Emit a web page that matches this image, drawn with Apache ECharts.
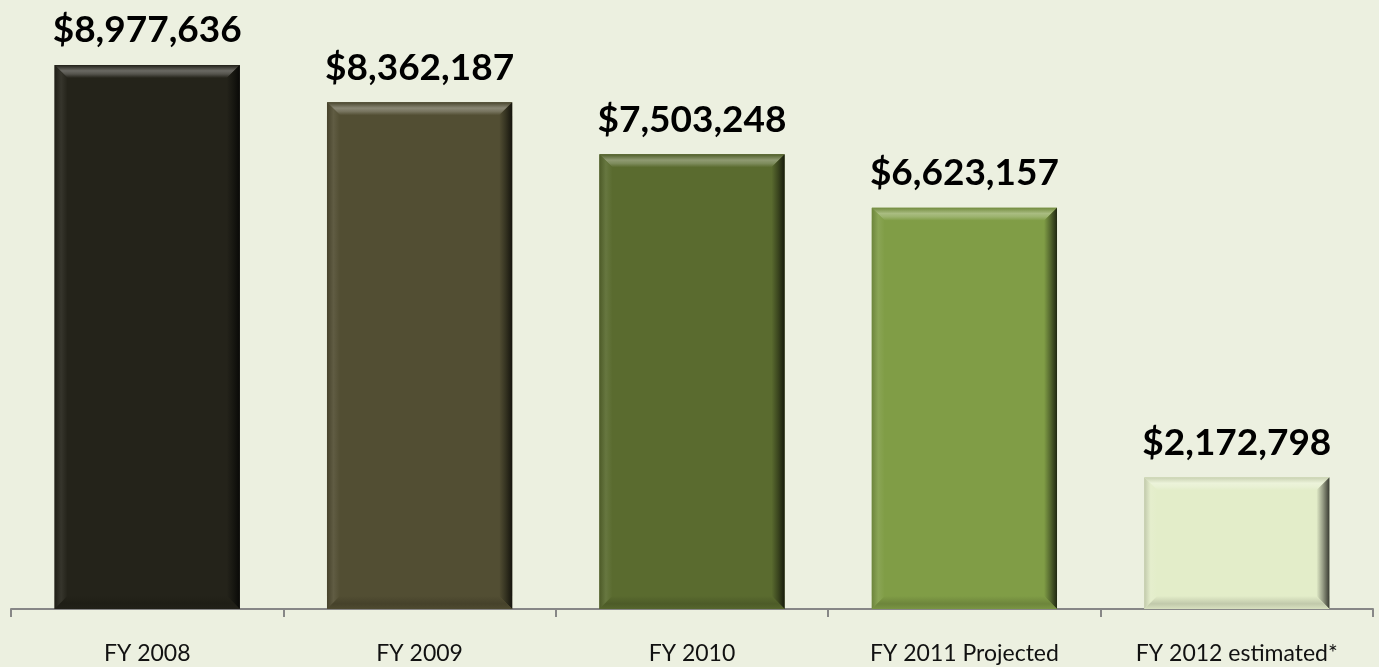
<!DOCTYPE html>
<html>
<head>
<meta charset="utf-8">
<script src="https://cdn.jsdelivr.net/npm/echarts@6/dist/echarts.min.js"></script>
<style>
html,body{margin:0;padding:0;background:#ecf0e0;}
#chart{width:1379px;height:667px;}
</style>
</head>
<body>
<div id="chart"></div>
<script>
var categories = ['FY 2008', 'FY 2009', 'FY 2010', 'FY 2011 Projected', 'FY 2012 estimated*'];
var values = [8977636, 8362187, 7503248, 6623157, 2172798];
var barColors = ['#24231a', '#524e33', '#5a6b2f', '#809d46', '#e3edc9'];

function hexToRgb(h){h=h.replace('#','');return [parseInt(h.substr(0,2),16),parseInt(h.substr(2,2),16),parseInt(h.substr(4,2),16)];}
function mix(c, t, a){
  var r = hexToRgb(c), s = hexToRgb(t);
  return 'rgb(' + [0,1,2].map(function(i){return Math.round(r[i]*(1-a)+s[i]*a);}).join(',') + ')';
}
function fmt(v){return '$' + v.toString().replace(/\B(?=(\d{3})+(?!\d))/g, ',');}

function renderItem(params, api){
  var idx = params.dataIndex;
  var top = api.coord([idx, api.value(1)]);
  var base = api.coord([idx, 0]);
  var w = api.size([1, 0])[0] * 0.68;
  var x = top[0] - w / 2, y = top[1], h = base[1] - top[1];
  var b = 13;
  var c = barColors[idx];
  var darker = mix(c, '#000000', 0.75);
  var lgt = function(a){return mix(c, '#ffffff', a);};
  var drk = function(a){return mix(c, '#000000', a);};
  return {
    type: 'group',
    children: [
      {type: 'rect', shape: {x: x, y: y, width: w, height: h}, style: {fill: c}},
      {type: 'polygon', shape: {points: [[x, y], [x + w, y], [x + w - b, y + b], [x + b, y + b]]},
        style: {fill: new echarts.graphic.LinearGradient(0, 0, 0, 1, [
          {offset: 0, color: drk(0.12)}, {offset: 0.45, color: lgt(0.32)}, {offset: 0.7, color: lgt(0.22)}, {offset: 1, color: c}])}},
      {type: 'polygon', shape: {points: [[x, y], [x + b, y + b], [x + b, y + h - b], [x, y + h]]},
        style: {fill: new echarts.graphic.LinearGradient(0, 0, 1, 0, [
          {offset: 0, color: drk(0.15)}, {offset: 0.5, color: lgt(0.08)}, {offset: 1, color: c}])}},
      {type: 'polygon', shape: {points: [[x + w, y], [x + w, y + h], [x + w - b, y + h - b], [x + w - b, y + b]]},
        style: {fill: new echarts.graphic.LinearGradient(0, 0, 1, 0, [
          {offset: 0, color: c}, {offset: 0.5, color: drk(0.35)}, {offset: 1, color: darker}])}},
      {type: 'polygon', shape: {points: [[x, y + h], [x + b, y + h - b], [x + w - b, y + h - b], [x + w, y + h]]},
        style: {fill: new echarts.graphic.LinearGradient(0, 0, 0, 1, [
          {offset: 0, color: c}, {offset: 0.6, color: drk(0.15)}, {offset: 1, color: drk(0.05)}])}},
      {type: 'text', x: top[0], y: y - 16,
        style: {text: fmt(api.value(1)), fill: '#000', font: 'bold 37px Lato', align: 'center', verticalAlign: 'bottom'}}
    ]
  };
}

var chart = echarts.init(document.getElementById('chart'));
chart.setOption({
  backgroundColor: '#ecf0e0',
  animation: false,
  grid: {left: 11, right: 6, top: 3, bottom: 58, containLabel: false},
  xAxis: {
    type: 'category', data: categories, boundaryGap: true,
    axisLine: {show: true, lineStyle: {color: '#878787', width: 2}},
    axisTick: {show: true, alignWithLabel: false, interval: 0, length: 8, lineStyle: {color: '#878787', width: 2}},
    axisLabel: {fontSize: 23, fontFamily: 'Lato', color: '#111', margin: 33, interval: 0}
  },
  yAxis: {type: 'value', min: 0, max: 10000000, show: false, splitLine: {show: false}},
  series: [{
    type: 'custom',
    renderItem: renderItem,
    data: values.map(function(v, i){return [i, v];}),
    encode: {x: 0, y: 1},
    z: 1
  }]
});
</script>
</body>
</html>
